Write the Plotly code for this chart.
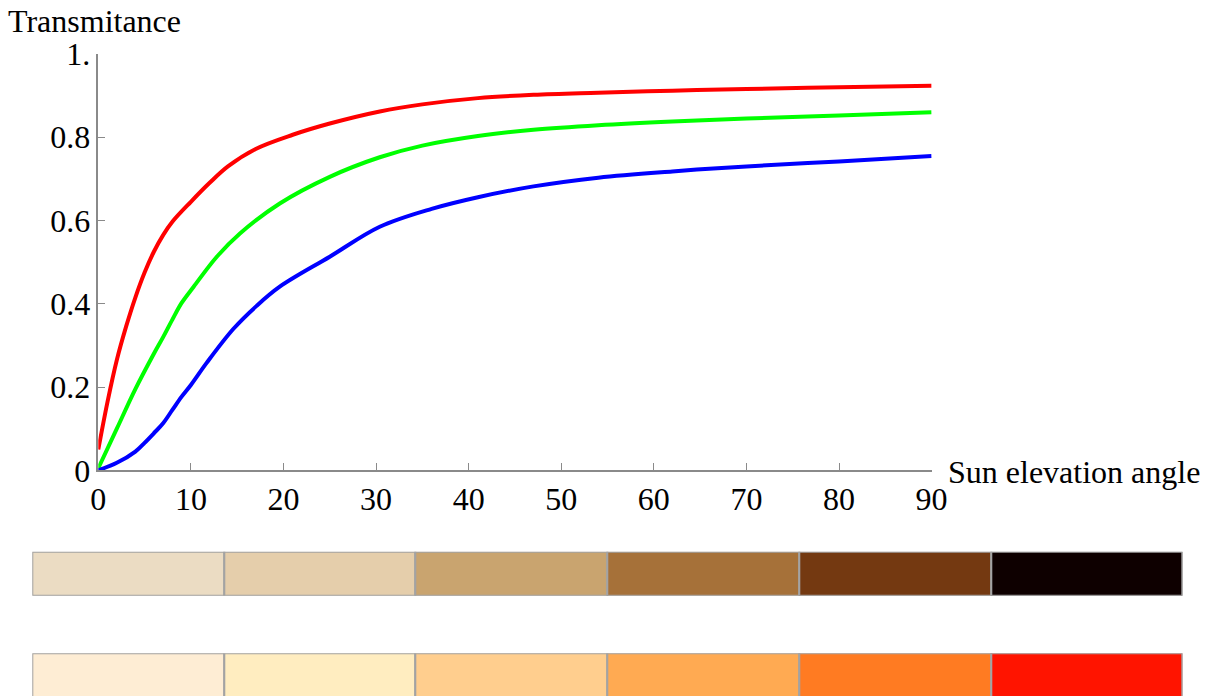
import plotly.graph_objects as go

# ---- data ----
angle_red = [0, 1, 2, 3, 4, 5, 6, 7, 8, 10, 12, 14, 17, 21, 25, 30.4, 35, 41, 47, 54, 62, 70, 80, 90]
trans_red = [0.05, 0.165, 0.265, 0.345, 0.415, 0.475, 0.525, 0.565, 0.597, 0.645, 0.69, 0.73, 0.772, 0.806,
             0.833, 0.862, 0.879, 0.894, 0.902, 0.907, 0.912, 0.916, 0.920, 0.924]

angle_green = [0, 2, 4, 6, 7, 8, 9, 10.3, 12.8, 15.3, 19.6, 25, 30.4, 35, 41, 47, 54, 62, 70, 80, 90]
trans_green = [0.005, 0.1, 0.195, 0.28, 0.32, 0.362, 0.402, 0.441, 0.513, 0.569, 0.641, 0.705, 0.752,
               0.780, 0.803, 0.818, 0.829, 0.838, 0.845, 0.852, 0.860]

angle_blue = [0, 2, 4, 5, 6, 7, 8, 9, 10, 11.7, 14.6, 17.1, 19.6, 25, 30.4, 36, 41, 47, 54, 62, 70, 80, 90]
trans_blue = [0.0, 0.018, 0.045, 0.066, 0.089, 0.113, 0.145, 0.177, 0.205, 0.258, 0.34, 0.395, 0.441,
              0.513, 0.585, 0.628, 0.656, 0.682, 0.703, 0.718, 0.730, 0.742, 0.755]

x_ticks = [0, 10, 20, 30, 40, 50, 60, 70, 80, 90]
y_ticks = [0, 0.2, 0.4, 0.6, 0.8, 1.0]
y_ticktext = ["0", "0.2", "0.4", "0.6", "0.8", "1."]

skin_colors = ["#EBDCC3", "#E5CEAB", "#C9A46F", "#A67139", "#743911", "#0E0000"]
fire_colors = ["#FEEDD4", "#FFEDC0", "#FFCE8E", "#FFAA52", "#FF7B22", "#FF1400"]

W, H = 1224, 696
FONT = "Liberation Serif"
AX = "#8a8a8a"

def fx(px):
    return px / W

def fy(py):
    return (H - py) / H

fig = go.Figure()
for xs, ys, col in [(angle_red, trans_red, "#FF0000"),
                    (angle_green, trans_green, "#00FF00"),
                    (angle_blue, trans_blue, "#0000FF")]:
    fig.add_trace(go.Scatter(x=xs, y=ys, mode="lines",
                             line=dict(color=col, width=4, shape="spline", smoothing=1.0),
                             showlegend=False, hoverinfo="skip", cliponaxis=False))

# swatch rows
idx = [i + 0.5 for i in range(len(skin_colors))]
fig.add_trace(go.Bar(x=idx, y=[1] * len(skin_colors), width=1, base=0,
                     marker=dict(color=skin_colors, line=dict(color="#a3a3a3", width=2)),
                     xaxis="x2", yaxis="y2", showlegend=False, hoverinfo="skip"))
fig.add_trace(go.Bar(x=idx, y=[1] * len(fire_colors), width=1, base=0,
                     marker=dict(color=fire_colors, line=dict(color="#a3a3a3", width=2)),
                     xaxis="x2", yaxis="y3", showlegend=False, hoverinfo="skip"))

fig.update_layout(
    width=W, height=H, autosize=False,
    margin=dict(l=0, r=0, t=0, b=0, pad=0, autoexpand=False),
    paper_bgcolor="white", plot_bgcolor="white",
    font=dict(family=FONT, size=32, color="black"),
    xaxis=dict(domain=[fx(98.3), fx(931.6)], range=[0, 90], tickvals=x_ticks,
               ticks="inside", ticklen=8, tickwidth=1.3, tickcolor=AX, automargin=False,
               showline=True, linecolor=AX, linewidth=1.5, showgrid=False, zeroline=False,
               anchor="y", tickfont=dict(family=FONT, size=32, color="black")),
    yaxis=dict(domain=[fy(470.3), fy(54.0)], range=[0, 1], tickvals=y_ticks, ticktext=y_ticktext,
               ticks="inside", ticklen=7, tickwidth=1.3, tickcolor=AX, automargin=False,
               showline=True, linecolor=AX, linewidth=1.5, showgrid=False, zeroline=False,
               anchor="x", tickfont=dict(family=FONT, size=32, color="black")),
    xaxis2=dict(domain=[fx(32.3), fx(1182.7)], range=[0, 6], visible=False, anchor="y2"),
    yaxis2=dict(domain=[fy(595.7), fy(551.7)], range=[0, 1], visible=False, anchor="x2"),
    yaxis3=dict(domain=[0, fy(653.3)], range=[0.03, 1], visible=False, anchor="x2"),
    bargap=0,
)

fig.add_annotation(text="Transmitance", xref="paper", yref="paper",
                   x=fx(6), y=fy(21), xanchor="left", yanchor="middle",
                   showarrow=False, font=dict(family=FONT, size=32, color="black"))
fig.add_annotation(text="Sun elevation angle", xref="paper", yref="paper",
                   x=fx(946), y=fy(472), xanchor="left", yanchor="middle",
                   showarrow=False, font=dict(family=FONT, size=32, color="black"))

fig.write_html("out.html")

with open("out.html", "r", encoding="utf-8") as f:
    html = f.read()
html = html.replace("<body>", '<body style="margin:0;padding:0;overflow:hidden">', 1)
with open("out.html", "w", encoding="utf-8") as f:
    f.write(html)
